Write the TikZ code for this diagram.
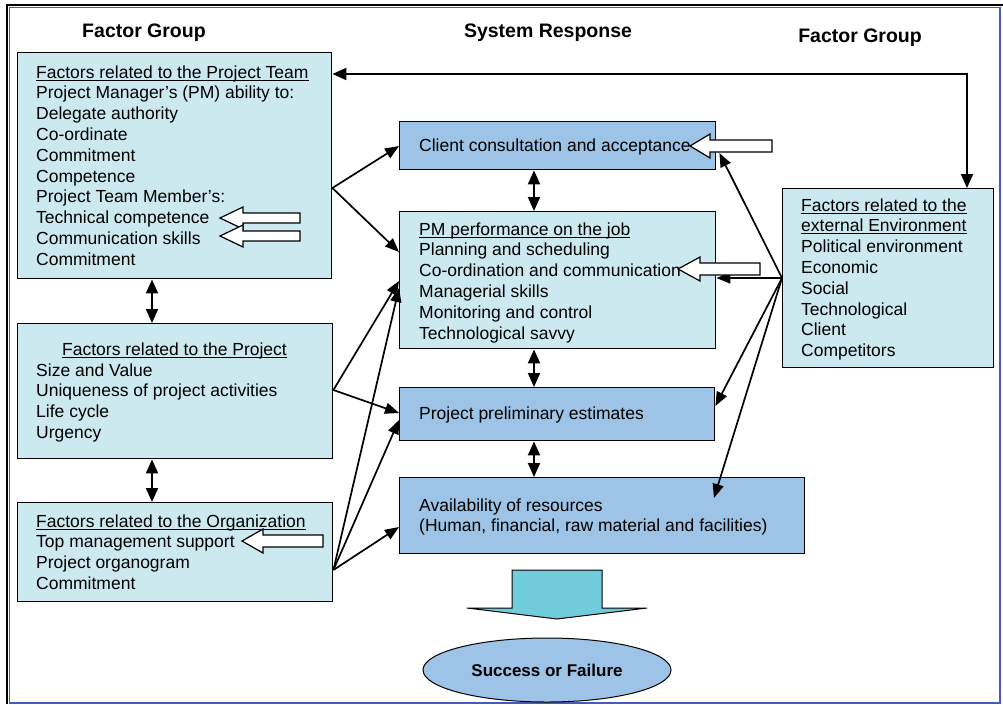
\documentclass[tikz,border=0pt]{standalone}
\usepackage{fontspec}
\setmainfont{Liberation Sans}
\usetikzlibrary{arrows.meta,shapes.geometric,calc}
\definecolor{lcyan}{RGB}{205,233,240}
\definecolor{mblue}{RGB}{157,195,230}
\definecolor{tealarrow}{RGB}{112,204,218}
\definecolor{frameblue}{RGB}{72,90,190}
\newcommand\myul[1]{\leavevmode\setbox0\hbox{#1}\rlap{\rule[-2.5pt]{\wd0}{0.9pt}}\box0}
\newcommand\boxtext[1]{\parbox[t]{500pt}{\raggedright\fontsize{17.5}{20.8}\selectfont\leavevmode #1}}
\newcommand\hollowarr[6]{%
  \draw[hollowstyle] (#1,#2) -- (#3,#2-#6) -- (#3,#2-#5) -- (#4,#2-#5) -- (#4,#2+#5) -- (#3,#2+#5) -- (#3,#2+#6) -- cycle;}
\tikzset{
  boxbase/.style={draw=black, line width=1.4pt, inner sep=0, anchor=north west},
  lbox/.style={boxbase, fill=lcyan},
  bbox/.style={boxbase, fill=mblue},
  txtnode/.style={anchor=base west, inner sep=0},
  conn/.style={line width=1.7pt, -{Triangle[length=14pt,width=11pt]}},
  dconn/.style={line width=1.9pt, {Triangle[length=14pt,width=12pt]}-{Triangle[length=14pt,width=12pt]}},
  hollowstyle/.style={draw=black, line width=1.2pt, fill=white},
  header/.style={anchor=base, inner sep=0, font=\fontsize{19.5}{23}\selectfont\bfseries}
}
\begin{document}
\begin{tikzpicture}[x=1pt,y=-1pt]
\useasboundingbox (0,0) rectangle (1003,704);
% frame
\draw[black, line width=2pt] (7,704) -- (7,5) -- (1003,5);
\draw[frameblue, line width=1.6pt] (9.5,7.5) rectangle (1000,703);

% headers
\node[header] (h1) at (144,37) {Factor Group};
\node[header] (h2) at (548,37) {System Response};
\node[header] (h3) at (860,42) {Factor Group};

% boxes
\node[lbox, minimum width=314pt, minimum height=226pt] (team) at (17,52) {};
\node[lbox, minimum width=315pt, minimum height=135pt] (proj) at (17,323) {};
\node[lbox, minimum width=315pt, minimum height=99pt] (org) at (17,502) {};
\node[bbox, minimum width=316pt, minimum height=48pt] (client) at (399,121) {};
\node[lbox, minimum width=316pt, minimum height=137pt] (pm) at (399,211) {};
\node[bbox, minimum width=315pt, minimum height=53pt] (prelim) at (399,387) {};
\node[bbox, minimum width=405pt, minimum height=76pt] (avail) at (399,477) {};
\node[lbox, minimum width=211pt, minimum height=179pt] (env) at (782,188) {};

% texts
\node[txtnode] (tteam) at (36,78) {\boxtext{\myul{Factors related to the Project Team}\\Project Manager’s (PM) ability to:\\Delegate authority\\Co-ordinate\\Commitment\\Competence\\Project Team Member’s:\\Technical competence\\Communication skills\\Commitment}};
\node[anchor=base, inner sep=0] (tprojh) at (174.5,355) {\fontsize{17.5}{20.8}\selectfont\myul{Factors related to the Project}};
\node[txtnode] (tproj) at (36,376) {\boxtext{Size and Value\\Uniqueness of project activities\\Life cycle\\Urgency}};
\node[txtnode] (torg) at (36,527) {\boxtext{\myul{Factors related to the Organization}\\Top management support\\Project organogram\\Commitment}};
\node[txtnode] (tclient) at (419,151) {\boxtext{Client consultation and acceptance}};
\node[txtnode] (tpm) at (419,235) {\boxtext{\myul{PM performance on the job}\\Planning and scheduling\\Co-ordination and communication\\Managerial skills\\Monitoring and control\\Technological savvy}};
\node[txtnode] (tprelim) at (419,419) {\boxtext{Project preliminary estimates}};
\node[txtnode] (tavail) at (419,511) {\boxtext{Availability of resources\\(Human, financial, raw material and facilities)}};
\node[txtnode] (tenv) at (801,211) {\boxtext{\myul{Factors related to the}\\\myul{external Environment}\\Political environment\\Economic\\Social\\Technological\\Client\\Competitors}};

% double arrows
\draw[dconn] (team.north east |- 0,74) -- (967,74) -- (env.north -| 967,0);
\draw[dconn] (team.south -| 152,0) -- (proj.north -| 152,0);
\draw[dconn] (proj.south -| 152,0) -- (org.north -| 152,0);
\draw[dconn] (client.south -| 534,0) -- (pm.north -| 534,0);
\draw[dconn] (pm.south -| 534,0) -- (prelim.north -| 534,0);
\draw[dconn] (prelim.south -| 534,0) -- (avail.north -| 534,0);

% left fans
\coordinate (tf) at (team.east |- 0,188);
\draw[conn] (tf) -- (client.west |- 0,146);
\draw[conn] (tf) -- (pm.west |- 0,252);
\coordinate (pf) at (proj.east |- 0,390);
\draw[conn] (pf) -- (pm.west |- 0,281);
\draw[conn] (pf) -- (prelim.west |- 0,413);
\coordinate (of) at (org.east |- 0,570);
\draw[conn] (of) -- (pm.west |- 0,288);
\draw[conn] (of) -- (prelim.west |- 0,420);
\draw[conn] (of) -- (avail.west |- 0,527);

% right fan
\coordinate (ef) at (env.west |- 0,278);
\draw[conn] (ef) -- ($(client.east |- 0,153)+(3,0)$);
\draw[conn] (ef) -- (pm.east |- 0,278);
\draw[conn] (ef) -- (prelim.east |- 0,406);
\draw[conn] (ef) -- ($(avail.north west)+(315,21)$);

% hollow arrows
\hollowarr{690}{146}{710}{772}{6}{12}
\hollowarr{678}{269}{700}{760}{6}{12}
\hollowarr{220}{218}{243}{300}{5}{11}
\hollowarr{220}{236}{243}{300}{5}{11}
\hollowarr{242}{541}{263}{323}{6}{12}

% big down arrow and result
\draw[line width=1pt, fill=tealarrow] (512,570) -- (602,570) -- (602,608) -- (647,608) -- (557,619) -- (467,608) -- (512,608) -- cycle;
\node[ellipse, draw=black, line width=1pt, fill=mblue, minimum width=248pt, minimum height=64pt, inner sep=0, font=\fontsize{17}{20}\selectfont\bfseries] (sf) at (547,670) {Success or Failure};
\end{tikzpicture}
\end{document}
